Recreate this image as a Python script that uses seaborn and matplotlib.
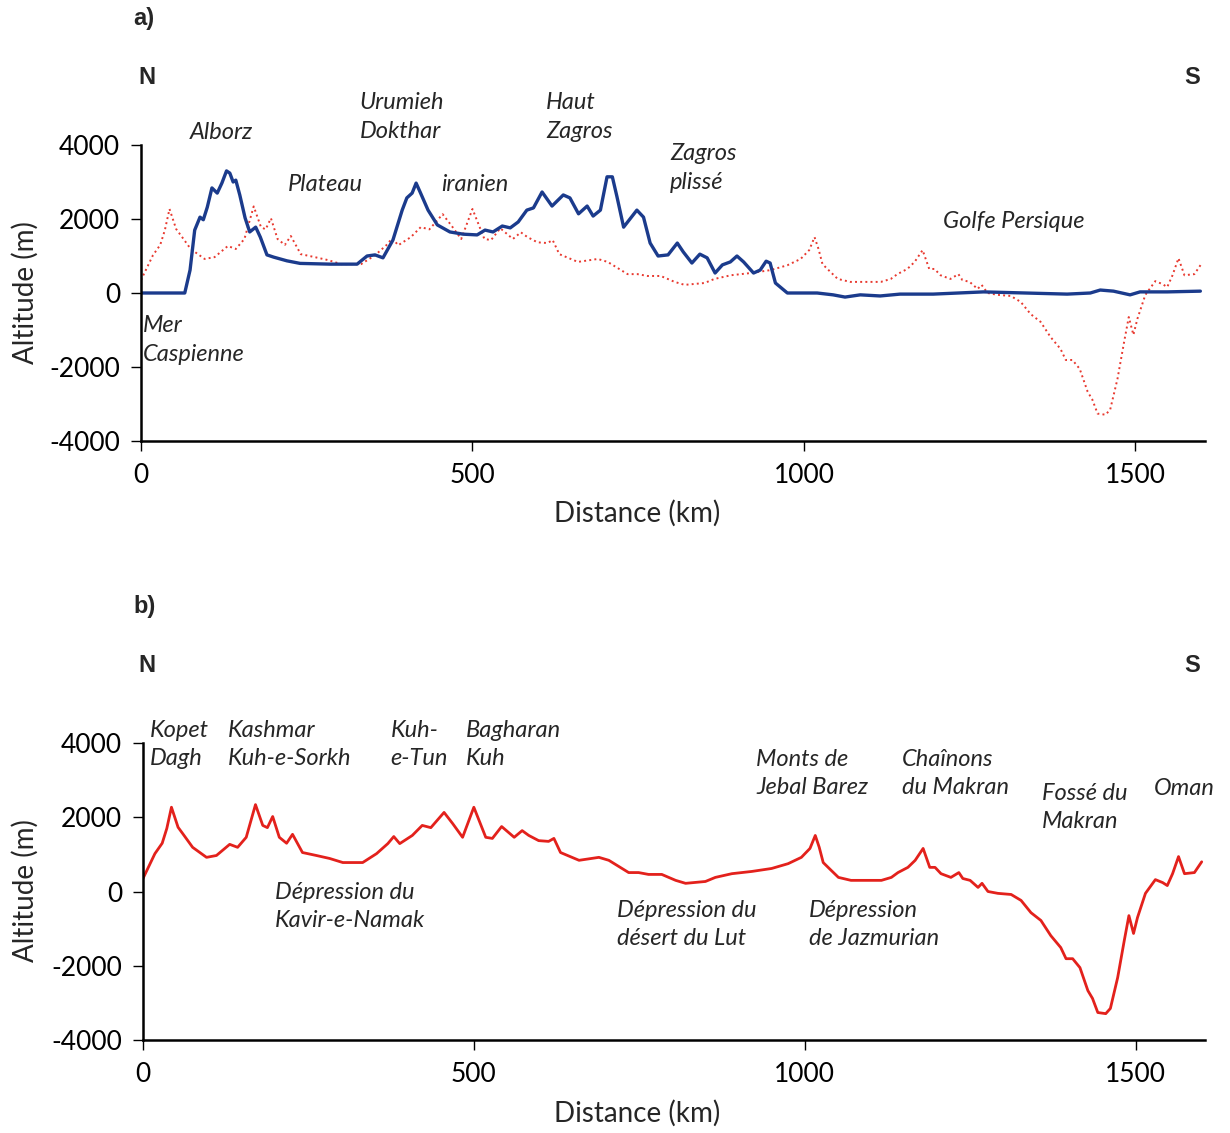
import matplotlib
matplotlib.use("Agg")
import matplotlib.pyplot as plt
import seaborn as sns

# profile b) (also the red dotted line in a)): distance (km) / altitude (m)
dist_b = [0, 18, 29, 36, 43, 53, 60, 75, 96, 111, 131, 143, 156, 170, 181, 188, 196,
          206, 217, 226, 241, 262, 282, 302, 332, 353, 370, 379, 388, 407, 422, 435,
          455, 468, 483, 500, 518, 528, 542, 561, 573, 583, 598, 613, 621, 631, 659,
          689, 704, 734, 749, 764, 784, 805, 820, 850, 865, 890, 920, 950, 975, 995,
          1008, 1016, 1022, 1028, 1040, 1051, 1070, 1116, 1131, 1141, 1156, 1167, 1179,
          1189, 1197, 1206, 1221, 1233, 1239, 1250, 1262, 1268, 1277, 1292, 1312, 1327,
          1342, 1357, 1372, 1387, 1395, 1405, 1416, 1428, 1435, 1443, 1455, 1462, 1473,
          1483, 1490, 1497, 1503, 1515, 1530, 1541, 1548, 1556, 1565, 1574, 1589, 1600]
alt_b = [350, 1020, 1300, 1700, 2270, 1730, 1560, 1190, 920, 970, 1270, 1190, 1460,
         2340, 1780, 1720, 2020, 1460, 1300, 1540, 1050, 970, 890, 780, 780, 1020, 1290,
         1480, 1290, 1510, 1780, 1720, 2130, 1830, 1460, 2270, 1460, 1430, 1750, 1460,
         1640, 1510, 1370, 1350, 1430, 1050, 840, 920, 840, 510, 510, 460, 460, 300, 220,
         270, 380, 480, 540, 620, 750, 920, 1160, 1510, 1190, 780, 570, 380, 300, 300,
         380, 510, 650, 840, 1160, 650, 650, 480, 380, 510, 350, 300, 110, 220, 0, -50,
         -80, -240, -570, -780, -1190, -1510, -1810, -1810, -2050, -2670, -2880, -3260,
         -3290, -3150, -2320, -1320, -650, -1130, -700, -50, 320, 240, 160, 480, 940,
         480, 510, 800]

# profile a) blue line
dist_a = [0, 66, 74, 81, 89, 94, 100, 107, 115, 122, 129, 134, 139, 143, 149, 157, 164,
          173, 180, 190, 200, 220, 240, 285, 326, 341, 353, 365, 380, 394, 401, 409, 415,
          421, 433, 447, 466, 486, 507, 519, 531, 545, 557, 569, 582, 592, 605, 620, 637,
          647, 660, 673, 682, 693, 703, 711, 718, 728, 748, 758, 768, 780, 795, 809, 818,
          831, 843, 854, 866, 877, 889, 899, 909, 924, 934, 943, 949, 957, 975, 1020,
          1044, 1062, 1085, 1115, 1145, 1195, 1271, 1397, 1432, 1447, 1467, 1492, 1507,
          1548, 1598]
alt_a = [0, 0, 620, 1700, 2050, 1980, 2320, 2840, 2700, 2970, 3300, 3240, 3000, 3050,
         2650, 2030, 1650, 1780, 1510, 1030, 970, 870, 800, 780, 780, 1000, 1030, 950,
         1430, 2240, 2570, 2700, 2970, 2730, 2240, 1840, 1650, 1590, 1570, 1700, 1650,
         1810, 1760, 1920, 2240, 2300, 2730, 2350, 2650, 2570, 2140, 2350, 2080, 2240,
         3140, 3140, 2600, 1780, 2240, 2050, 1350, 1000, 1030, 1350, 1110, 810, 1050,
         950, 540, 760, 840, 1000, 840, 540, 620, 860, 810, 270, 0, 0, -50, -110, -50,
         -80, -30, -30, 30, -30, 0, 80, 50, -50, 30, 30, 50]

x_ticks = [0, 500, 1000, 1500]
y_ticks = [-4000, -2000, 0, 2000, 4000]

# annotations: (text, km, altitude)
labels_a = [("Alborz", 74, 4350), ("Plateau", 222, 2920), ("Urumieh\nDokthar", 330, 4757),
            ("iranien", 453, 2920), ("Haut\nZagros", 611, 4757),
            ("Zagros\nplissé", 798, 3380), ("Golfe Persique", 1210, 1920),
            ("Mer\nCaspienne", 3, -1270)]
labels_b = [("Kopet\nDagh", 10, 3960), ("Kashmar\nKuh-e-Sorkh", 128, 3960),
            ("Kuh-\ne-Tun", 374, 3960), ("Bagharan\nKuh", 488, 3960),
            ("Monts de\nJebal Barez", 927, 3180), ("Chaînons\ndu Makran", 1147, 3180),
            ("Fossé du\nMakran", 1358, 2264), ("Oman", 1527, 2776),
            ("Dépression du\nKavir-e-Namak", 199, -404),
            ("Dépression du\ndésert du Lut", 716, -890),
            ("Dépression\nde Jazmurian", 1007, -890)]

sns.set_style("ticks")
plt.rcParams['font.family'] = ['Lato', 'DejaVu Sans']
plt.rcParams['axes.unicode_minus'] = False

W, H = 1230, 1133
fig = plt.figure(figsize=(W / 100, H / 100), dpi=100)

def setup(ax):
    ax.set_xlim(0, 1605)
    ax.set_ylim(-4000, 4000)
    ax.set_xticks(x_ticks)
    ax.set_yticks(y_ticks)
    sns.despine(ax=ax)
    for s in ['left', 'bottom']:
        ax.spines[s].set_linewidth(1.8)
        ax.spines[s].set_color('black')
    ax.tick_params(axis='both', direction='out', length=7, width=1, labelsize=19,
                   colors='black')
    ax.tick_params(axis='y', pad=8)
    ax.tick_params(axis='x', pad=9)
    ax.set_xlabel('')
    ax.set_ylabel('')

# panel a
ax1 = fig.add_axes([141 / W, 1 - 441 / H, 1064 / W, 296 / H])
sns.lineplot(x=dist_b, y=alt_b, ax=ax1, color='#e8392f', lw=1.4, linestyle=':',
             estimator=None, sort=False)
sns.lineplot(x=dist_a, y=alt_a, ax=ax1, color='#1b3b8c', lw=2.4,
             estimator=None, sort=False)
setup(ax1)
for txt, x, y in labels_a:
    ax1.text(x, y, txt, style='italic', fontsize=17, ha='left', va='center',
             linespacing=1.45, clip_on=False)

# panel b
ax2 = fig.add_axes([143 / W, 1 - 1040 / H, 1062 / W, 297 / H])
sns.lineplot(x=dist_b, y=alt_b, ax=ax2, color='#e3211c', lw=2.0,
             estimator=None, sort=False)
setup(ax2)
for txt, x, y in labels_b:
    ax2.text(x, y, txt, style='italic', fontsize=17, ha='left', va='center',
             linespacing=1.45, clip_on=False)

# headers and axis titles
for yc, tag in [(18, 'a)'), (607, 'b)')]:
    fig.text(133 / W, 1 - yc / H, tag, fontsize=17, fontweight='bold',
             family='Liberation Sans', ha='left', va='center')
for yc in [77, 665]:
    fig.text(147 / W, 1 - yc / H, 'N', fontsize=17, fontweight='bold',
             family='Liberation Sans', ha='center', va='center')
    fig.text(1192 / W, 1 - yc / H, 'S', fontsize=17, fontweight='bold',
             family='Liberation Sans', ha='center', va='center')
for yc in [293, 891]:
    fig.text(25 / W, 1 - yc / H, 'Altitude (m)', fontsize=20, rotation=90,
             ha='center', va='center')
for yc in [513, 1113]:
    fig.text(637 / W, 1 - yc / H, 'Distance (km)', fontsize=20,
             ha='center', va='center')

fig.savefig('out.png', dpi=100, facecolor='white')
